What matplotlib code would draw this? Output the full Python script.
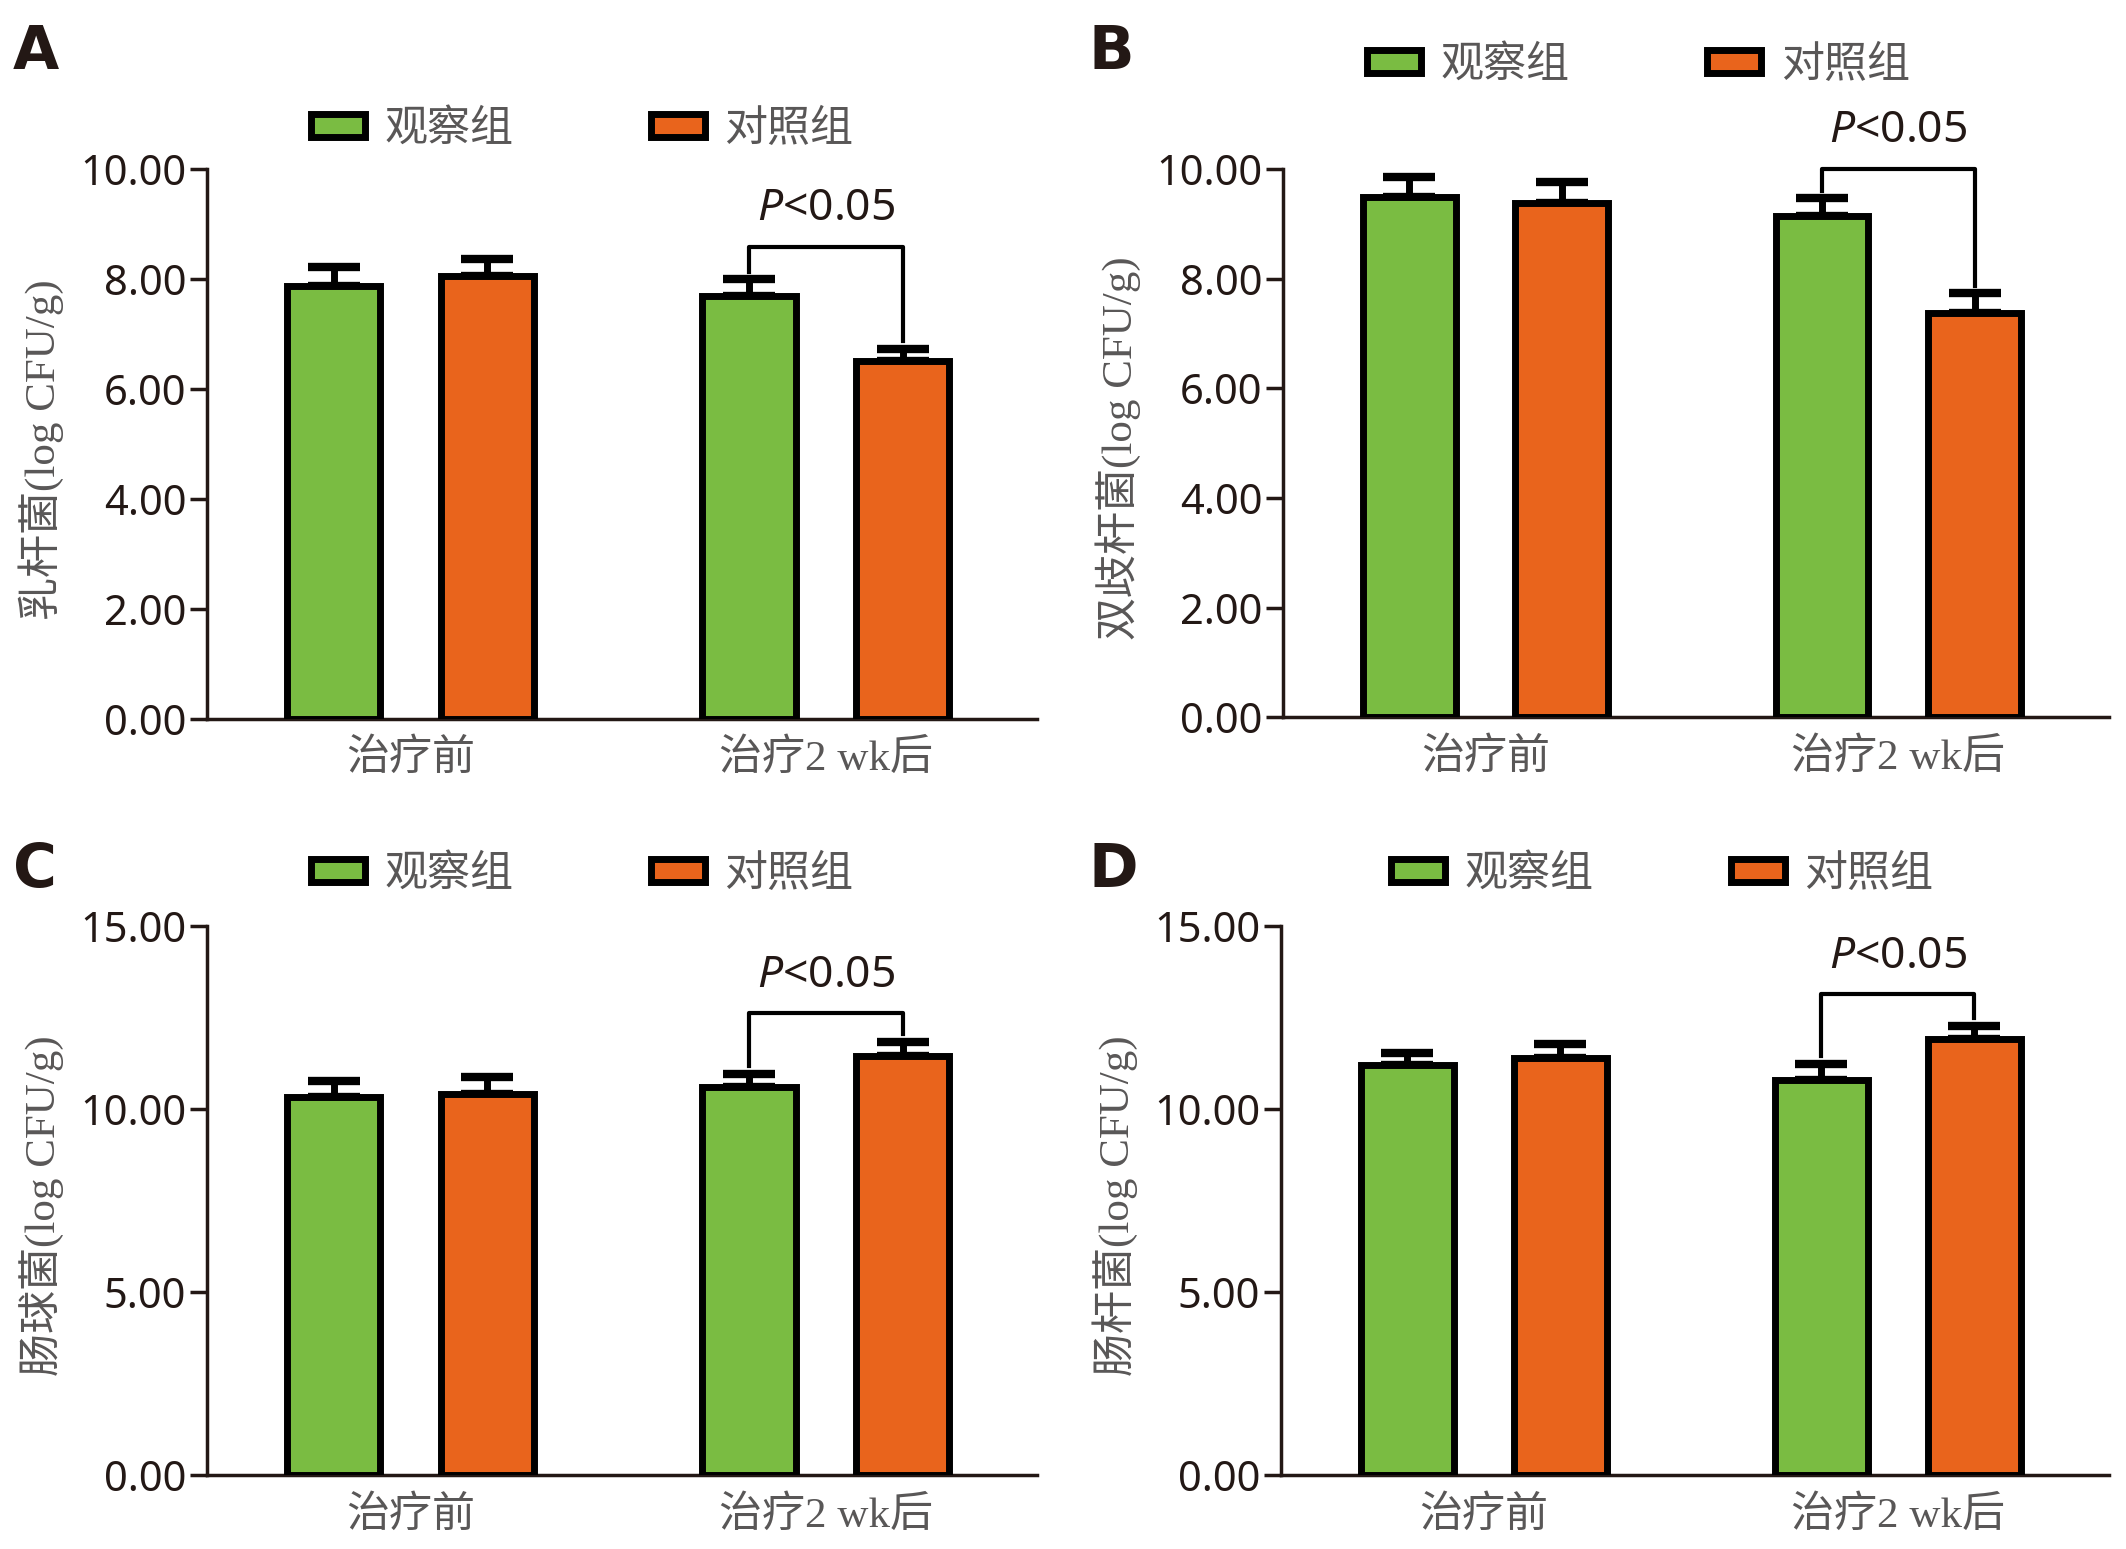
import numpy as np
import matplotlib
matplotlib.use("Agg")
import matplotlib.pyplot as plt
import matplotlib.transforms as mtransforms
from matplotlib.patches import Patch

plt.rcParams['font.family'] = ['Noto Sans', 'Noto Sans CJK SC']
plt.rcParams['mathtext.fontset'] = 'custom'
plt.rcParams['mathtext.it'] = 'Noto Sans:italic'
plt.rcParams['mathtext.rm'] = 'Noto Sans'

## data
groups = ['治疗前', '治疗2 wk后']
series = ['观察组', '对照组']
letters = ['A', 'B', 'C', 'D']
ylabels = ['乳杆菌(log CFU/g)', '双歧杆菌(log CFU/g)', '肠球菌(log CFU/g)', '肠杆菌(log CFU/g)']
obs_mean = [[7.87, 7.68], [9.48, 9.14], [10.31, 10.59], [11.19, 10.79]]
obs_err = [[0.35, 0.31], [0.38, 0.32], [0.44, 0.36], [0.34, 0.43]]
ctl_mean = [[8.06, 6.50], [9.37, 7.37], [10.39, 11.45], [11.38, 11.89]]
ctl_err = [[0.30, 0.23], [0.39, 0.36], [0.47, 0.37], [0.40, 0.37]]
bracket_y = [8.58, 10.0, 12.6, 13.12]
ymax = [10, 10, 15, 15]
ystep = [2, 2, 5, 5]

green = '#7ABC42'
orange = '#E9641C'
dark = '#231815'
grey = '#595757'

fig = plt.figure(figsize=(21.26, 15.49), dpi=100)
# axes boxes in figure fractions
boxes = [[0.0974, 0.536, 0.3906, 0.355],
         [0.6036, 0.537, 0.3884, 0.354],
         [0.0974, 0.0477, 0.3906, 0.3548],
         [0.6025, 0.0477, 0.3895, 0.3548]]
leg_pos = [(0.125, 1.073), (0.102, 1.19), (0.125, 1.094), (0.133, 1.094)]
letter_pos = [(0.006, 0.985), (0.512, 0.985), (0.006, 0.457), (0.512, 0.457)]

x = np.arange(len(groups))
w = 0.225
off = 0.185
serif_cjk = ['Liberation Serif', 'Noto Sans CJK SC']
shift = mtransforms.ScaledTranslation(6 / 72, 0, fig.dpi_scale_trans)

for i in range(4):
    ax = fig.add_axes(boxes[i])
    for xs, m, e, c in [(x - off, obs_mean[i], obs_err[i], green),
                        (x + off, ctl_mean[i], ctl_err[i], orange)]:
        ax.bar(xs, m, w, color=c, edgecolor='black', linewidth=5, zorder=3)
        ax.errorbar(xs, m, yerr=[np.zeros(2), e], fmt='none', ecolor='black',
                    elinewidth=5, capsize=19, capthick=6, zorder=2)

    # significance bracket over the second group
    gap = ymax[i] * 0.014
    xl, xr = x[1] - off, x[1] + off
    yl = obs_mean[i][1] + obs_err[i][1] + gap
    yr = ctl_mean[i][1] + ctl_err[i][1] + gap
    ax.plot([xl, xl, xr, xr], [yl, bracket_y[i], bracket_y[i], yr],
            color='black', linewidth=3, clip_on=False, zorder=4)
    ax.annotate(r'$\mathit{P}$<0.05', xy=(x[1], bracket_y[i]), xytext=(0, 27),
                textcoords='offset points', ha='center', va='center',
                fontsize=32, color=dark, annotation_clip=False)

    ax.set_xlim(-0.49, 1.51)
    ax.set_ylim(0, ymax[i])
    ticks = np.arange(0, ymax[i] + 0.1, ystep[i])
    ax.set_yticks(ticks)
    ax.set_yticklabels(['%.2f' % t for t in ticks], fontsize=30, color=dark)
    ax.set_xticks(x)
    ax.set_xticklabels(groups, fontsize=31, color=grey, family=serif_cjk)
    for lab in ax.get_xticklabels():
        lab.set_transform(lab.get_transform() + shift)
    ax.tick_params(axis='x', length=0, pad=15)
    ax.tick_params(axis='y', length=12, width=2.5, direction='out', pad=3, color=dark)
    for s in ['top', 'right']:
        ax.spines[s].set_visible(False)
    for s in ['left', 'bottom']:
        ax.spines[s].set_linewidth(2.5)
        ax.spines[s].set_color(dark)

    ax.set_ylabel(ylabels[i], fontsize=31, color=grey, family=serif_cjk)
    ax.yaxis.set_label_coords(-0.172, 0.49)

    handles = [Patch(facecolor=green, edgecolor='black', linewidth=5, label=series[0]),
               Patch(facecolor=orange, edgecolor='black', linewidth=5, label=series[1])]
    leg = ax.legend(handles=handles, ncol=2, loc='center left',
                    bbox_to_anchor=leg_pos[i], frameon=False, borderpad=0,
                    borderaxespad=0, handlelength=1.25, handleheight=0.45,
                    handletextpad=0.45, columnspacing=3.2,
                    prop={'family': 'Noto Sans CJK SC', 'size': 31})
    for t in leg.get_texts():
        t.set_color(grey)

    fig.text(letter_pos[i][0], letter_pos[i][1], letters[i], fontsize=43,
             fontweight='bold', family='DejaVu Sans', color=dark,
             ha='left', va='top')

fig.savefig('out.png', dpi=100)
